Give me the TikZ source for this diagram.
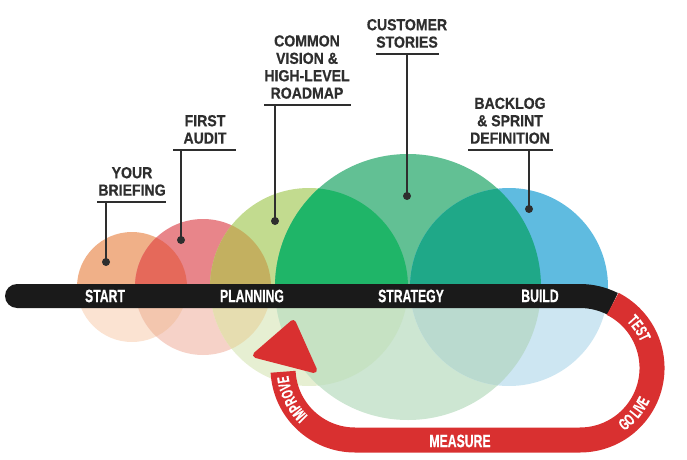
\documentclass[tikz,border=0pt]{standalone}
\usepackage{fontspec}
\usetikzlibrary{calc,decorations.text}
\newfontfamily\tagfont[FakeStretch=0.88,FakeBold=0.7]{Liberation Sans Bold}
\newfontfamily\barfont[FakeStretch=0.68,FakeBold=0.5]{Liberation Sans Bold}
\newfontfamily\arcfont[FakeStretch=0.6,FakeBold=0.5]{Liberation Sans Bold}

\definecolor{up1}{HTML}{F0B088}
\definecolor{up2}{HTML}{E8858A}
\definecolor{up3}{HTML}{C2DB8F}
\definecolor{up4}{HTML}{62C094}
\definecolor{up5}{HTML}{5FBBE0}
\definecolor{up12}{HTML}{E5695A}
\definecolor{up23}{HTML}{C3B060}
\definecolor{up34}{HTML}{1FB568}
\definecolor{up45}{HTML}{1FA888}
\definecolor{lo1}{HTML}{FBE3D2}
\definecolor{lo2}{HTML}{F6D2C8}
\definecolor{lo3}{HTML}{E6EFD2}
\definecolor{lo4}{HTML}{CDE6D2}
\definecolor{lo5}{HTML}{CDE6F2}
\definecolor{lo12}{HTML}{F3C6AE}
\definecolor{lo23}{HTML}{E6DDB0}
\definecolor{lo34}{HTML}{C6E2C3}
\definecolor{lo45}{HTML}{BADACF}
\definecolor{barblack}{HTML}{1A1A1A}
\definecolor{loopred}{HTML}{D93030}
\definecolor{tagdark}{HTML}{2E2E2E}

\tikzset{
  ribbon/.style={line width=24pt},
  tagtext/.style={inner sep=0pt,anchor=south,align=center,text=tagdark,
    font=\tagfont\fontsize{16}{17.4}\selectfont},
  bartext/.style={inner sep=0pt,text=white,font=\barfont\fontsize{18}{18}\selectfont},
  tagrule/.style={draw=tagdark,line width=1.5pt},
  arctext/.style={decorate,decoration={text along path,text align=center,
    text={|\arcfont\fontsize{16.5}{17}\selectfont\color{white}|#1}}}
}

\begin{document}
\begin{tikzpicture}[x=1pt,y=1pt]

\useasboundingbox (0,0) rectangle (687,459);

\coordinate (c1) at (132,172);
\coordinate (c2) at (203,172);
\coordinate (c3) at (309,172);
\coordinate (c4) at (408,172);
\coordinate (c5) at (509,172);
\coordinate (rightbend) at (580,91);
\coordinate (leftbend) at (355,91);

\foreach \part/\ya/\yb in {up/163/459,lo/0/163}{
  \begin{scope}
  \clip (0,\ya) rectangle (687,\yb);
  \foreach \n/\r in {1/55,2/68,3/99,4/133,5/99}{\fill[\part\n] (c\n) circle (\r pt);}
  \foreach \a/\b/\ra/\rb in {1/2/55/68,2/3/68/99,3/4/99/133,4/5/133/99}{
    \begin{scope}
    \clip (c\a) circle (\ra pt);
    \fill[\part\a\b] (c\b) circle (\rb pt);
    \end{scope}}
  \end{scope}}

\coordinate (barstart) at (17,163);
\coordinate (barend) at (580,163);
\draw[ribbon,barblack,line cap=round] (barstart) -- +(10,0);
\draw[ribbon,barblack] (barstart) -- (barend) arc[start angle=90,end angle=63,radius=72pt];

\coordinate (tip) at (293,136);
\coordinate (wingl) at (256,104);
\coordinate (wingr) at (314,89);

\draw[ribbon,loopred,line width=25pt] ($(rightbend)+(63:72pt)$) arc[start angle=63,end angle=-90,radius=72pt]
  -- (355,19) arc[start angle=270,end angle=183,radius=72pt];
\fill[loopred,draw=loopred,line width=6pt,line join=round] (tip) -- (wingl) -- (wingr) -- cycle;

\node[bartext] (start) at (105,163) {START};
\node[bartext] (planning) at (252,163) {PLANNING};
\node[bartext] (strategy) at (411,163) {STRATEGY};
\node[bartext] (build) at (540,163) {BUILD};
\node[bartext] (measure) at (460,18) {MEASURE};

\path[postaction={arctext=TEST}] ($(rightbend)+(60:66pt)$) arc[start angle=60,end angle=8,radius=66pt];
\path[postaction={arctext=GO LIVE}] ($(rightbend)+(-75:77pt)$) arc[start angle=-75,end angle=-5,radius=77pt];
\path[postaction={arctext=IMPROVE}] ($(leftbend)+(246:67pt)$) arc[start angle=246,end angle=166,radius=67pt];

\foreach \name/\x/\y/\lft/\rgt/\stem/\dotx/\doty/\words in {
  briefing/132/257/97/166/106/106/197/{YOUR\\BRIEFING},
  audit/205/309/173/236/181/181/219/{FIRST\\AUDIT},
  vision/307/354/264/351/275/275/238/{COMMON\\VISION \&\\HIGH-LEVEL\\ROADMAP},
  stories/407/405/376/439/407/407/263/{CUSTOMER\\STORIES},
  backlog/510/309/468/553/529/529/250/{BACKLOG\\\& SPRINT\\DEFINITION}}{
  \coordinate (dot\name) at (\dotx,\doty);
  \node[tagtext] (\name) at (\x,\y+6) {\words};
  \coordinate (top\name) at (\stem,\y);
  \draw[tagrule] (\lft,\y) -- (\rgt,\y);
  \draw[tagrule] (top\name) -- (dot\name);
  \fill[tagdark] (dot\name) circle (4pt);}

\end{tikzpicture}
\end{document}
